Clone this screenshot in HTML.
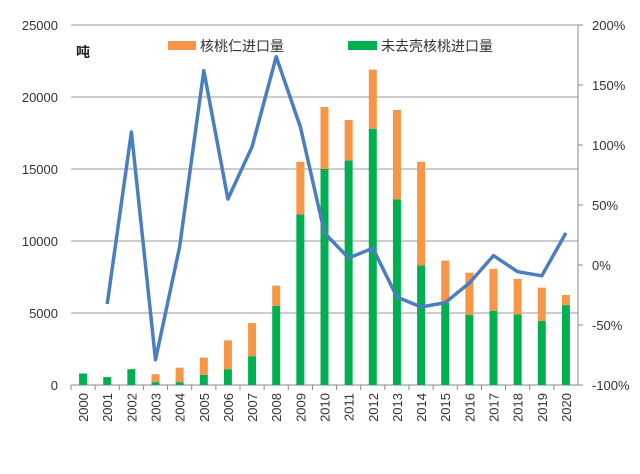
<!DOCTYPE html>
<html><head><meta charset="utf-8"><style>
body{margin:0;background:#fff;}
svg text{font-family:"Liberation Sans","Noto Sans CJK SC",sans-serif;}
</style></head><body>
<svg id="chart" width="640" height="469" viewBox="0 0 640 469" xmlns="http://www.w3.org/2000/svg">
<g id="grid"></g><g id="bars"></g><g id="line"></g><g id="axes"></g>
<text x="76" y="57" font-size="14" font-weight="bold" fill="#222">吨</text>
<g>
<rect x="168" y="41" width="28" height="9" fill="#f79646"/>
<text x="200" y="51" font-size="14" fill="#333">核桃仁进口量</text>
<rect x="348" y="41" width="29" height="9" fill="#00b050"/>
<text x="381" y="51" font-size="14" fill="#333">未去壳核桃进口量</text>
</g>
</svg>
<script>
const years=["2000","2001","2002","2003","2004","2005","2006","2007","2008","2009","2010","2011","2012","2013","2014","2015","2016","2017","2018","2019","2020"];
const inshell=[800,550,1100,200,200,700,1100,2000,5500,11850,15000,15600,17800,12900,8300,5700,4860,5160,4900,4440,5550];
const kernel=[0,0,0,550,1000,1200,2000,2300,1400,3650,4300,2800,4100,6200,7200,2930,2940,2900,2460,2320,700];
const growth=[null,-32.5,110.8,-79,15,162,55,98.6,173.6,115,26.7,5.8,14,-26.7,-35,-31.4,-15,7.8,-5.6,-9,26.7];
const leftTicks=[0,5000,10000,15000,20000,25000];
const rightTicks=["-100%","-50%","0%","50%","100%","150%","200%"];
const rightVals=[-100,-50,0,50,100,150,200];
const X0=71,X1=578,Y0=385,Y1=25,NS="http://www.w3.org/2000/svg";
const bw=(X1-X0)/years.length;
const xc=i=>X0+bw*(i+0.5);
const yL=v=>Y0-(v/25000)*(Y0-Y1);
const yR=p=>Y0-((p+100)/300)*(Y0-Y1);
function mk(tag,attrs,parent,txt){const e=document.createElementNS(NS,tag);for(const k in attrs)e.setAttribute(k,attrs[k]);if(txt!==undefined)e.textContent=txt;document.getElementById(parent).appendChild(e);return e;}
leftTicks.forEach(v=>{
 const g=mk('line',{x1:X0,x2:X1,y1:yL(v),y2:yL(v),stroke:v===0?'#888':'#999','stroke-width':1},'grid');
 
 
 const t=mk('text',{x:58,y:yL(v)+5,'font-size':13,fill:'#333','text-anchor':'end'},'axes',String(v));
 
 
});
rightVals.forEach((p,i)=>{
 const t=mk('text',{x:592,y:yR(p)+5,'font-size':13,fill:'#333'},'axes',rightTicks[i]);
 
 
 const tk=mk('line',{x1:X1,x2:X1+5,y1:yR(p),y2:yR(p),stroke:'#888'},'axes');
 
 
});
const ra=mk('line',{x1:X1,x2:X1,y1:Y1,y2:Y0,stroke:'#888'},'axes');


years.forEach((y,i)=>{
 const tk=mk('line',{x1:X0+bw*i,x2:X0+bw*i,y1:Y0,y2:Y0+5,stroke:'#888'},'axes');
 
 
 const x=xc(i);
 const t=mk('text',{x:0,y:0,'font-size':13,fill:'#333','text-anchor':'end',transform:`translate(${x+5},${Y0+8}) rotate(-90)`},'axes',y);
 
 
 const g=mk('rect',{x:x-4,y:yL(inshell[i]),width:8,height:Y0-yL(inshell[i]),fill:'#00b050'},'bars');
 
 
 if(kernel[i]>0){
  const o=mk('rect',{x:x-4,y:yL(inshell[i]+kernel[i]),width:8,height:yL(inshell[i])-yL(inshell[i]+kernel[i]),fill:'#f79646'},'bars');
  
  
 }
});
let d='';growth.forEach((p,i)=>{if(p===null)return;d+=(d?'L':'M')+xc(i).toFixed(1)+','+yR(p).toFixed(1);});
const ln=mk('path',{d:d,fill:'none',stroke:'#4a7ebf','stroke-width':3.5,'stroke-linejoin':'round'},'line');


</script>
</body></html>
